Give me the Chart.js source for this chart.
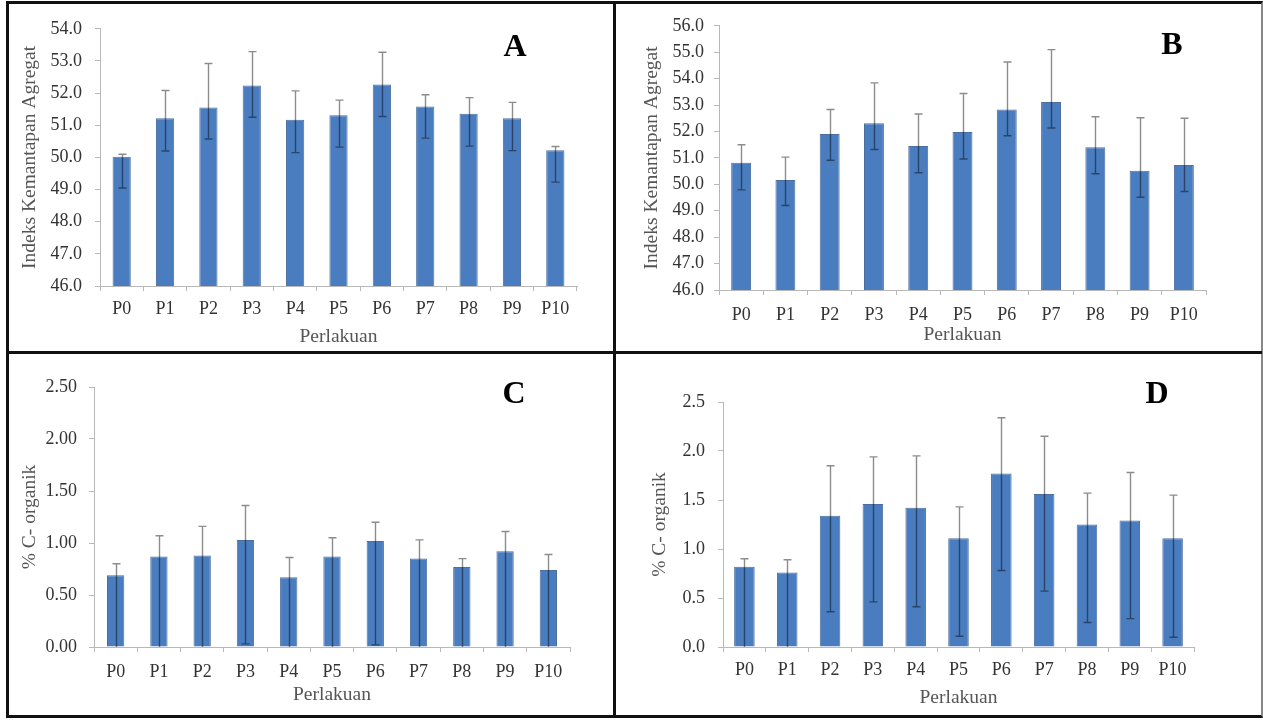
<!DOCTYPE html>
<html lang="id">
<head>
  <meta charset="UTF-8">
  <title>Indeks Kemantapan Agregat dan % C-organik</title>
  <script src="https://cdn.jsdelivr.net/npm/chart.js"></script>
  <style>
    body {
      margin: 0;
      background: #ffffff;
      font-family: "Liberation Serif", serif;
    }
    #page {
      position: relative;
      width: 1263px;
      height: 720px;
      overflow: hidden;
    }
    .frame {
      position: absolute;
      left: 6px;
      top: 1px;
      width: 1252px;
      height: 711px;
      border: 3px solid #111;
      border-right: 2px solid #888;
    }
    .vline {
      position: absolute;
      left: 613px;
      top: 1px;
      width: 3px;
      height: 717px;
      background: #111;
    }
    .hline {
      position: absolute;
      left: 6px;
      top: 351px;
      width: 1256px;
      height: 3px;
      background: #111;
    }
    .panel {
      position: absolute;
    }
    .letter {
      position: absolute;
      font-family: "Liberation Serif", serif;
      font-weight: bold;
      font-size: 32px;
      line-height: 32px;
      color: #000;
      transform: translate(-50%, -50%);
    }
  </style>
</head>
<body>
<div id="page">
  <div class="panel" style="left:10px; top:5px; width:600px; height:345px;"><canvas id="chartA" width="600" height="345"></canvas></div>
  <div class="panel" style="left:618px; top:5px; width:641px; height:345px;"><canvas id="chartB" width="641" height="345"></canvas></div>
  <div class="panel" style="left:10px; top:356px; width:600px; height:359px;"><canvas id="chartC" width="600" height="359"></canvas></div>
  <div class="panel" style="left:618px; top:356px; width:641px; height:359px;"><canvas id="chartD" width="641" height="359"></canvas></div>

  <div class="letter" style="left:515px; top:45px;">A</div>
  <div class="letter" style="left:1172px; top:43px;">B</div>
  <div class="letter" style="left:514px; top:392px;">C</div>
  <div class="letter" style="left:1157px; top:392px;">D</div>

  <div class="frame"></div>
  <div class="vline"></div>
  <div class="hline"></div>
</div>

<script>
  // perlakuan
  const categories = ['P0', 'P1', 'P2', 'P3', 'P4', 'P5', 'P6', 'P7', 'P8', 'P9', 'P10'];

  // A - indeks kemantapan agregat
  const valuesA = [50.02, 51.22, 51.55, 52.24, 51.17, 51.31, 52.27, 51.58, 51.36, 51.22, 50.22];
  const upperA  = [50.10, 52.08, 52.92, 53.29, 52.07, 51.78, 53.27, 51.95, 51.86, 51.71, 50.34];
  const lowerA  = [49.05, 50.20, 50.57, 51.25, 50.15, 50.32, 51.27, 50.60, 50.35, 50.21, 49.23];
  const yTicksA = [46, 47, 48, 49, 50, 51, 52, 53, 54];

  // B - indeks kemantapan agregat
  const valuesB = [50.82, 50.16, 51.90, 52.31, 51.45, 51.98, 52.83, 53.12, 51.40, 50.51, 50.73];
  const upperB  = [51.50, 51.03, 52.83, 53.84, 52.66, 53.44, 54.63, 55.10, 52.56, 52.52, 52.50];
  const lowerB  = [49.79, 49.20, 50.91, 51.32, 50.44, 50.96, 51.84, 52.13, 50.40, 49.51, 49.73];
  const yTicksB = [46, 47, 48, 49, 50, 51, 52, 53, 54, 55, 56];

  // C - % C-organik
  const valuesC = [0.69, 0.87, 0.88, 1.03, 0.67, 0.87, 1.02, 0.85, 0.77, 0.92, 0.74];
  const upperC  = [0.80, 1.07, 1.16, 1.36, 0.86, 1.05, 1.20, 1.03, 0.85, 1.11, 0.89];
  const lowerC  = [0.00, 0.00, 0.00, 0.03, 0.00, 0.00, 0.02, 0.00, 0.00, 0.00, 0.00];
  const yTicksC = [0, 0.5, 1.0, 1.5, 2.0, 2.5];

  // D - % C-organik
  const valuesD = [0.82, 0.76, 1.34, 1.46, 1.42, 1.11, 1.77, 1.56, 1.25, 1.29, 1.11];
  const upperD  = [0.90, 0.89, 1.85, 1.94, 1.95, 1.43, 2.34, 2.15, 1.57, 1.78, 1.55];
  const lowerD  = [0.00, 0.00, 0.36, 0.46, 0.41, 0.11, 0.78, 0.57, 0.25, 0.29, 0.10];
  const yTicksD = [0, 0.5, 1.0, 1.5, 2.0, 2.5];

  const serif = '"Liberation Serif", "Times New Roman", serif';
  const axisGrey = '#b8b8b8';

  // garis error: bagian atas abu-abu, bagian di dalam batang lebih gelap
  const errorBars = {
    id: 'errorBars',
    afterDatasetsDraw(chart) {
      const ds = chart.data.datasets[0];
      const meta = chart.getDatasetMeta(0);
      const y = chart.scales.y;
      const ctx = chart.ctx;
      ctx.save();
      ctx.strokeStyle = 'rgba(0,0,0,0.45)';
      ctx.lineWidth = 1.4;
      meta.data.forEach((bar, i) => {
        const x = Math.round(bar.x) + 0.5;
        const yTop = y.getPixelForValue(ds.errUpper[i]);
        const low = Math.max(ds.errLower[i], y.min);
        const yLow = y.getPixelForValue(low);
        ctx.beginPath();
        ctx.moveTo(x, yTop);
        ctx.lineTo(x, yLow);
        ctx.moveTo(x - 4, yTop);
        ctx.lineTo(x + 4, yTop);
        if (low > y.min) {
          ctx.moveTo(x - 4, yLow);
          ctx.lineTo(x + 4, yLow);
        }
        ctx.stroke();
      });
      ctx.restore();
    }
  };

  const makeChart = (id, values, upper, lower, yTicks, decimals, yTitle, lay) => {
    return new Chart(document.getElementById(id), {
      type: 'bar',
      data: {
        labels: categories,
        datasets: [{
          data: values,
          errUpper: upper,
          errLower: lower,
          backgroundColor: '#4A7DBF',
          borderColor: 'rgba(45,85,145,0.85)',
          borderWidth: 1,
          categoryPercentage: 1.0,
          barPercentage: lay.bar
        }]
      },
      options: {
        responsive: false,
        animation: false,
        events: [],
        layout: { padding: { left: 0, top: lay.padTop, right: lay.padRight, bottom: 0 } },
        plugins: { legend: { display: false }, tooltip: { enabled: false } },
        scales: {
          x: {
            grid: { display: true, drawOnChartArea: false, offset: true, tickLength: 5, color: axisGrey },
            border: { display: true, color: axisGrey, width: 1 },
            ticks: { color: '#333', padding: lay.xTickPad, font: { family: serif, size: 18 }, maxRotation: 0, autoSkip: false },
            title: { display: true, text: 'Perlakuan', color: '#555', font: { family: serif, size: 19.5 }, padding: { top: 0, bottom: lay.xTitlePad } },
            afterFit: (s) => { s.height = lay.xHeight; }
          },
          y: {
            min: yTicks[0],
            max: yTicks[yTicks.length - 1],
            afterBuildTicks: (s) => { s.ticks = yTicks.map(v => ({ value: v })); },
            grid: { display: true, drawOnChartArea: false, tickLength: 5, color: axisGrey },
            border: { display: true, color: axisGrey, width: 1 },
            ticks: {
              color: '#333',
              padding: lay.yTickPad,
              font: { family: serif, size: 18 },
              callback: (v) => Number(v).toFixed(decimals)
            },
            title: { display: true, text: yTitle, color: '#555', font: { family: serif, size: 19.5 }, padding: { top: lay.yTitlePad, bottom: 0 } },
            afterFit: (s) => { s.width = lay.yWidth; }
          }
        }
      },
      plugins: [errorBars]
    });
  };

  makeChart('chartA', valuesA, upperA, lowerA, yTicksA, 1, 'Indeks Kemantapan Agregat',
    { padTop: 19, padRight: 33, xHeight: 64, yWidth: 90, yTitlePad: 8, yTickPad: 13, xTickPad: 7, xTitlePad: 1, bar: 0.42 });
  makeChart('chartB', valuesB, upperB, lowerB, yTicksB, 1, 'Indeks Kemantapan Agregat',
    { padTop: 19, padRight: 53, xHeight: 60, yWidth: 101, yTitlePad: 22, yTickPad: 10, xTickPad: 9, xTitlePad: 3, bar: 0.45 });
  makeChart('chartC', valuesC, upperC, lowerC, yTicksC, 2, '% C- organik',
    { padTop: 31, padRight: 40, xHeight: 68, yWidth: 84, yTitlePad: 8, yTickPad: 12, xTickPad: 9, xTitlePad: 8, bar: 0.40 });
  makeChart('chartD', valuesD, upperD, lowerD, yTicksD, 1, '% C- organik',
    { padTop: 46, padRight: 65, xHeight: 68, yWidth: 105, yTitlePad: 30, yTickPad: 13, xTickPad: 7, xTitlePad: 5, bar: 0.48 });
</script>
</body>
</html>
